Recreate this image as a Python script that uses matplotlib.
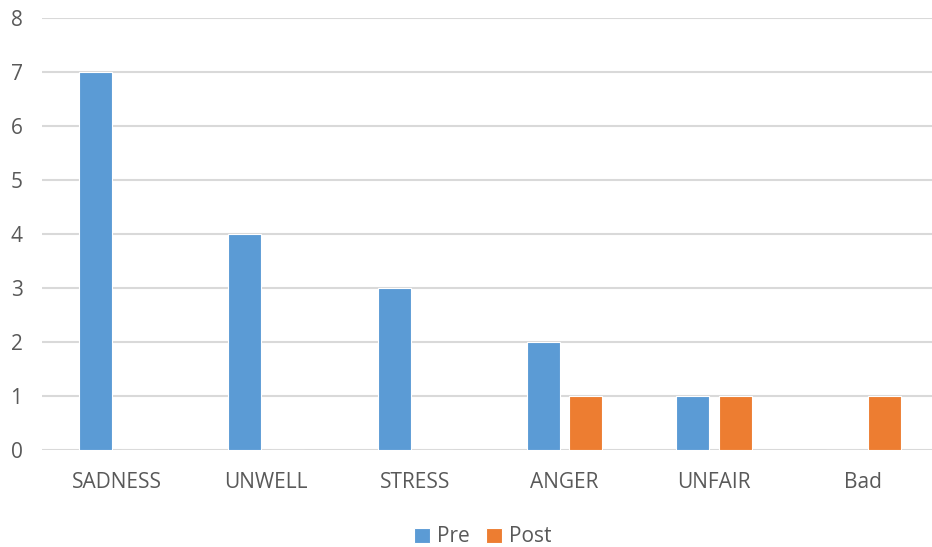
import matplotlib
matplotlib.use("Agg")
import matplotlib.pyplot as plt
import numpy as np

categories = ["SADNESS", "UNWELL", "STRESS", "ANGER", "UNFAIR", "Bad"]
pre = [7, 4, 3, 2, 1, 0]
post = [0, 0, 0, 1, 1, 1]
yticks = [0, 1, 2, 3, 4, 5, 6, 7, 8]

blue = "#5b9bd5"
orange = "#ed7d31"
grid_c = "#d9d9d9"
text_c = "#595959"

plt.rcParams["font.family"] = ["Open Sans", "DejaVu Sans"]

fig = plt.figure(figsize=(9.32, 5.47), dpi=100)
ax = fig.add_axes([42 / 932, 1 - 450 / 547, 890 / 932, 432 / 547])

x = np.arange(len(categories))
w = 0.221
off = 0.141
ax.bar(x - off, pre, w, color=blue, edgecolor="white", linewidth=0.8, label="Pre", zorder=3)
ax.bar(x + off, post, w, color=orange, edgecolor="white", linewidth=0.8, label="Post", zorder=3)

ax.set_ylim(0, 8)
ax.set_xlim(-0.5, 5.46)
ax.set_yticks(yticks)
ax.set_xticks(x)
ax.set_xticklabels(categories)
ax.yaxis.grid(True, color=grid_c, linewidth=1.5, zorder=0)
ax.set_axisbelow(True)
for s in ax.spines.values():
    s.set_visible(False)
ax.tick_params(axis="both", length=0, colors=text_c, labelsize=15)
ax.tick_params(axis="x", pad=16)
ax.tick_params(axis="y", pad=14)

leg = fig.legend(loc="center", bbox_to_anchor=(483 / 932, 1 - 537 / 547), ncol=2,
                 frameon=False, fontsize=15, handlelength=0.75, handleheight=0.75,
                 handletextpad=0.35, columnspacing=0.8)
for t in leg.get_texts():
    t.set_color(text_c)

fig.savefig("out.png", dpi=100)
